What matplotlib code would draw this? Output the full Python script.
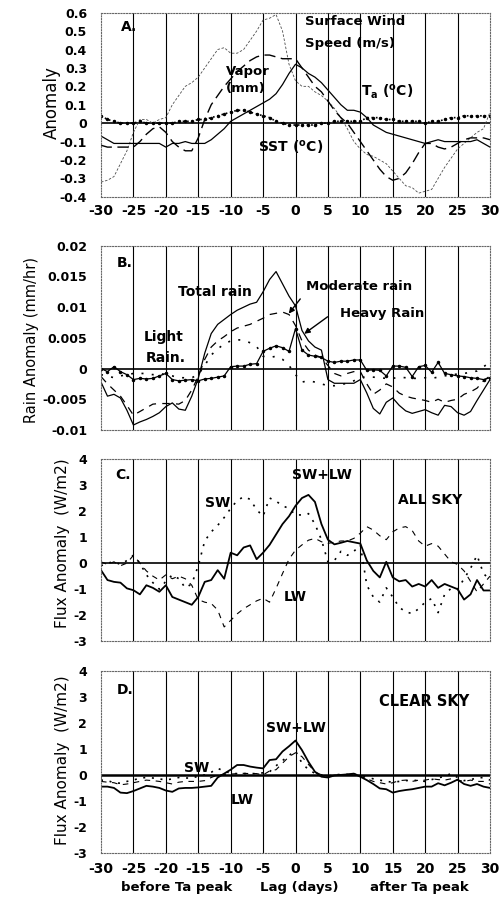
import numpy as np
import matplotlib.pyplot as plt

lag = np.arange(-30, 31)

# Panel A: anomalies
ta = [-0.07, -0.09, -0.11, -0.11, -0.11, -0.11, -0.11, -0.11, -0.11, -0.11,
      -0.13, -0.11, -0.11, -0.10, -0.11, -0.11, -0.11, -0.09, -0.06, -0.03,
      0.01, 0.03, 0.05, 0.07, 0.09, 0.11, 0.13, 0.16, 0.21, 0.27,
      0.32, 0.30, 0.27, 0.25, 0.22, 0.18, 0.14, 0.10, 0.07, 0.07,
      0.06, 0.03, -0.01, -0.03, -0.05, -0.06, -0.07, -0.08, -0.09, -0.10,
      -0.11, -0.10, -0.09, -0.10, -0.10, -0.10, -0.10, -0.10, -0.09, -0.11, -0.13]
vapor = [-0.12, -0.13, -0.13, -0.13, -0.13, -0.13, -0.10, -0.06, -0.03, -0.02,
         -0.05, -0.10, -0.13, -0.15, -0.15, -0.08, 0.02, 0.10, 0.15, 0.20,
         0.24, 0.28, 0.31, 0.34, 0.36, 0.37, 0.37, 0.36, 0.35, 0.35,
         0.35, 0.30, 0.25, 0.20, 0.17, 0.12, 0.07, 0.03, 0.00, -0.05,
         -0.10, -0.15, -0.20, -0.25, -0.29, -0.31, -0.30, -0.27, -0.22, -0.16,
         -0.11, -0.11, -0.13, -0.14, -0.13, -0.11, -0.09, -0.08, -0.08, -0.08, -0.09]
wind = [-0.32, -0.31, -0.29, -0.22, -0.15, -0.05, 0.02, 0.02, 0.00, 0.02,
        0.03, 0.10, 0.15, 0.20, 0.22, 0.25, 0.30, 0.35, 0.40, 0.41,
        0.38, 0.38, 0.40, 0.45, 0.50, 0.56, 0.57, 0.59, 0.50, 0.32,
        0.23, 0.20, 0.20, 0.17, 0.15, 0.12, 0.08, 0.03, -0.03, -0.10,
        -0.14, -0.17, -0.18, -0.20, -0.22, -0.26, -0.30, -0.34, -0.35, -0.38,
        -0.37, -0.36, -0.30, -0.24, -0.19, -0.14, -0.11, -0.08, -0.05, -0.03, 0.06]
sst = [0.04, 0.02, 0.01, 0.00, 0.00, 0.00, 0.01, 0.00, 0.00, 0.00,
       0.00, 0.00, 0.01, 0.01, 0.01, 0.02, 0.02, 0.03, 0.04, 0.05,
       0.06, 0.07, 0.07, 0.06, 0.05, 0.04, 0.03, 0.01, 0.00, -0.01,
       -0.01, -0.01, -0.01, -0.01, 0.00, 0.00, 0.01, 0.01, 0.01, 0.01,
       0.01, 0.03, 0.03, 0.03, 0.02, 0.02, 0.01, 0.01, 0.01, 0.01,
       0.00, 0.01, 0.01, 0.02, 0.03, 0.03, 0.04, 0.04, 0.04, 0.04, 0.04]

# Panel B: rain anomaly (mm/hr)
total_rain = [-0.0022, -0.0045, -0.0042, -0.0048, -0.0068, -0.0092, -0.0087, -0.0083, -0.0078, -0.0072,
              -0.0062, -0.0056, -0.0066, -0.0068, -0.0045, -0.0016, 0.0025, 0.0057, 0.0072, 0.0080,
              0.0088, 0.0095, 0.0100, 0.0105, 0.0108, 0.0125, 0.0145, 0.0158, 0.0138, 0.0118,
              0.0102, 0.0062, 0.0045, 0.0035, 0.0030, -0.0018, -0.0024, -0.0024, -0.0024, -0.0024,
              -0.0018, -0.0040, -0.0065, -0.0074, -0.0055, -0.0048, -0.0060, -0.0069, -0.0073, -0.0070,
              -0.0067, -0.0072, -0.0076, -0.0060, -0.0062, -0.0072, -0.0076, -0.0070, -0.0052, -0.0035, -0.0018]
moderate_rain = [-0.0013, -0.0025, -0.0035, -0.0045, -0.0060, -0.0076, -0.0070, -0.0064, -0.0058, -0.0057,
                 -0.0057, -0.0057, -0.0058, -0.0052, -0.0035, -0.0013, 0.0015, 0.0035, 0.0045, 0.0052,
                 0.0060, 0.0066, 0.0069, 0.0072, 0.0077, 0.0082, 0.0088, 0.0090, 0.0092, 0.0088,
                 0.0070, 0.0045, 0.0030, 0.0022, 0.0018, 0.0005, -0.0008, -0.0012, -0.0008, -0.0005,
                 -0.0005, -0.0025, -0.0042, -0.0035, -0.0025, -0.0030, -0.0040, -0.0045, -0.0048, -0.0050,
                 -0.0052, -0.0055, -0.0050, -0.0055, -0.0052, -0.0050, -0.0042, -0.0038, -0.0032, -0.0020, -0.0012]
heavy_rain = [0.0000, -0.0005, 0.0003, -0.0005, -0.0010, -0.0018, -0.0016, -0.0017, -0.0016, -0.0012,
              -0.0008, -0.0018, -0.0020, -0.0019, -0.0018, -0.0020, -0.0017, -0.0016, -0.0014, -0.0012,
              0.0003, 0.0004, 0.0004, 0.0007, 0.0008, 0.0028, 0.0033, 0.0037, 0.0034, 0.0028,
              0.0065, 0.0030, 0.0022, 0.0020, 0.0018, 0.0012, 0.0010, 0.0012, 0.0012, 0.0014,
              0.0014, -0.0003, -0.0002, -0.0003, -0.0012, 0.0004, 0.0004, 0.0002, -0.0013, 0.0003,
              0.0005, -0.0006, 0.0010, -0.0008, -0.0010, -0.0012, -0.0013, -0.0015, -0.0016, -0.0018, -0.0015]
light_rain = [-0.0010, -0.0012, -0.0015, -0.0012, -0.0010, -0.0008, -0.0008, -0.0008, -0.0010, -0.0008,
              -0.0010, -0.0012, -0.0015, -0.0015, -0.0015, -0.0010, 0.0005, 0.0022, 0.0032, 0.0040,
              0.0045, 0.0047, 0.0046, 0.0042, 0.0036, 0.0020, 0.0018, 0.0020, 0.0015, 0.0005,
              -0.0010, -0.0022, -0.0020, -0.0022, -0.0025, -0.0028, -0.0028, -0.0026, -0.0024, -0.0020,
              -0.0015, -0.0013, -0.0014, -0.0015, -0.0016, -0.0016, -0.0014, -0.0015, -0.0016, -0.0016,
              -0.0015, -0.0016, -0.0014, -0.0012, -0.0010, -0.0009, -0.0008, -0.0006, -0.0004, 0.0003, 0.0010]

# Panel C: all-sky flux anomaly (W/m2)
c_net = [-0.27, -0.65, -0.72, -0.75, -0.97, -1.04, -1.20, -0.85, -0.95, -1.10,
         -0.85, -1.30, -1.40, -1.50, -1.60, -1.30, -0.72, -0.65, -0.27, -0.60,
         0.40, 0.30, 0.60, 0.68, 0.15, 0.40, 0.70, 1.10, 1.50, 1.80,
         2.20, 2.50, 2.62, 2.35, 1.50, 0.90, 0.72, 0.78, 0.85, 0.80,
         0.75, 0.10, -0.30, -0.55, 0.05, -0.55, -0.70, -0.65, -0.90, -0.80,
         -0.90, -0.65, -0.95, -0.80, -0.90, -1.00, -1.40, -1.20, -0.65, -1.05, -1.05]
c_sw = [-0.10, 0.00, 0.05, -0.05, 0.10, 0.30, 0.00, -0.45, -0.75, -1.00,
        -0.70, -0.45, -0.60, -0.95, -0.80, -0.10, 0.85, 1.20, 1.45, 1.75,
        2.10, 2.40, 2.55, 2.45, 2.05, 1.80, 2.50, 2.38, 2.20, 2.10,
        1.85, 1.85, 1.90, 1.50, 0.90, 0.05, 0.10, 0.45, 0.30, 0.45,
        0.70, -0.85, -1.30, -1.50, -0.95, -1.30, -1.70, -1.87, -1.94, -1.75,
        -1.50, -1.36, -1.90, -1.20, -0.97, -1.00, -0.60, -0.20, 0.30, -0.40, -0.65]
c_lw = [0.05, -0.05, 0.05, -0.10, 0.00, 0.30, 0.00, -0.30, -0.50, -0.65,
        -0.45, -0.60, -0.50, -0.60, -0.85, -1.40, -1.50, -1.55, -1.80, -2.45,
        -2.20, -1.95, -1.75, -1.60, -1.45, -1.35, -1.50, -0.97, -0.40, 0.15,
        0.50, 0.70, 0.88, 0.95, 0.82, 0.76, 0.80, 0.85, 0.85, 0.95,
        1.15, 1.40, 1.27, 1.05, 0.90, 1.20, 1.35, 1.40, 1.25, 0.85,
        0.65, 0.75, 0.65, 0.35, 0.05, -0.05, -0.30, -0.70, -1.10, -0.80, -0.50]

# Panel D: clear-sky flux anomaly (W/m2)
d_net = [-0.45, -0.45, -0.50, -0.68, -0.70, -0.62, -0.52, -0.42, -0.45, -0.50,
         -0.60, -0.65, -0.52, -0.50, -0.50, -0.48, -0.45, -0.42, -0.10, 0.05,
         0.20, 0.38, 0.38, 0.32, 0.28, 0.25, 0.57, 0.60, 0.90, 1.10,
         1.32, 0.95, 0.50, 0.12, -0.07, -0.10, -0.02, 0.00, 0.02, 0.05,
         -0.07, -0.20, -0.35, -0.52, -0.55, -0.68, -0.62, -0.58, -0.55, -0.50,
         -0.45, -0.45, -0.32, -0.40, -0.30, -0.18, -0.35, -0.42, -0.35, -0.45, -0.50]
d_sw = [-0.20, -0.22, -0.30, -0.32, -0.25, -0.20, -0.12, -0.10, -0.12, -0.15,
        -0.20, -0.15, -0.10, -0.12, -0.12, -0.05, 0.00, 0.10, 0.25, 0.15,
        0.06, 0.05, 0.05, 0.05, 0.05, 0.08, 0.12, 0.35, 0.55, 0.75,
        0.92, 0.45, 0.20, 0.06, 0.00, -0.05, 0.00, 0.02, 0.02, 0.03,
        -0.03, -0.10, -0.15, -0.20, -0.25, -0.28, -0.25, -0.22, -0.20, -0.22,
        -0.25, -0.18, -0.12, -0.05, 0.05, -0.10, -0.22, -0.18, -0.12, -0.10, -0.20]
d_lw = [-0.25, -0.28, -0.30, -0.38, -0.35, -0.30, -0.25, -0.20, -0.22, -0.25,
        -0.30, -0.35, -0.28, -0.25, -0.25, -0.25, -0.22, -0.10, 0.00, 0.02,
        0.03, 0.05, 0.06, 0.05, 0.05, 0.00, 0.15, 0.20, 0.45, 0.70,
        0.85, 0.70, 0.40, 0.12, 0.00, -0.05, -0.03, 0.00, 0.02, 0.03,
        -0.05, -0.15, -0.25, -0.30, -0.35, -0.30, -0.22, -0.20, -0.25, -0.20,
        -0.20, -0.15, -0.18, -0.20, -0.15, -0.20, -0.25, -0.20, -0.25, -0.25, -0.35]

xticks = list(range(-30, 31, 5))

plt.rcParams['font.family'] = 'DejaVu Sans'
plt.rcParams['font.weight'] = 'bold'

fig = plt.figure(figsize=(5, 9.07), dpi=100)
left, width = 0.202, 0.778
axA = fig.add_axes([left, 0.783, width, 0.203])
axB = fig.add_axes([left, 0.526, width, 0.203])
axC = fig.add_axes([left, 0.293, width, 0.201])
axD = fig.add_axes([left, 0.0595, width, 0.201])


def frame(ax, ylim, yticks, show_x, xpad=5, zero_lw=1.2):
    ax.set_xlim(-30, 30)
    ax.set_ylim(*ylim)
    for x in xticks[1:-1]:
        ax.axvline(x, color='black', lw=0.8, zorder=1)
    ax.axhline(0, color='black', lw=zero_lw, zorder=1)
    for s in ax.spines.values():
        s.set_linestyle((0, (1, 1.5)))
        s.set_color('0.4')
        s.set_linewidth(0.8)
    ax.set_yticks(yticks)
    ax.set_yticklabels(['%g' % v for v in yticks], fontsize=9)
    ax.set_xticks(xticks)
    if show_x:
        ax.set_xticklabels([str(v) for v in xticks], fontsize=10)
    else:
        ax.set_xticklabels([])
    ax.tick_params(axis='y', length=0, pad=10)
    ax.tick_params(axis='x', length=0, pad=xpad)


# A
frame(axA, (-0.4, 0.6), [-0.4, -0.3, -0.2, -0.1, 0, 0.1, 0.2, 0.3, 0.4, 0.5, 0.6], True, xpad=5)
axA.plot(lag, wind, color='0.3', lw=0.6, dashes=(3, 2))
axA.plot(lag, vapor, color='black', lw=1.0, dashes=(8, 4))
axA.plot(lag, ta, color='black', lw=0.9)
axA.plot(lag, sst, color='black', lw=1.2, ls=':', marker='.', ms=3)
axA.text(-27, 0.5, 'A.', fontsize=10)
axA.text(1.5, 0.55, 'Surface Wind', fontsize=9.5, va='center')
axA.text(1.5, 0.435, 'Speed (m/s)', fontsize=9.5, va='center')
axA.text(-7.3, 0.28, 'Vapor', fontsize=9.5, ha='center', va='center')
axA.text(-7.6, 0.186, '(mm)', fontsize=9.5, ha='center', va='center')
axA.text(14.1, 0.17, r'T$_\mathbf{a}$ ($^\mathbf{o}$C)', fontsize=10, ha='center', va='center')
axA.text(-0.7, -0.13, r'SST ($^\mathbf{o}$C)', fontsize=10, ha='center', va='center')

# B
frame(axB, (-0.01, 0.02), [-0.01, -0.005, 0, 0.005, 0.01, 0.015, 0.02], False)
axB.plot(lag, light_rain, color='black', lw=1.2, dashes=(1.2, 5))
axB.plot(lag, moderate_rain, color='black', lw=0.9, dashes=(6, 5))
axB.plot(lag, total_rain, color='black', lw=0.9)
axB.plot(lag, heavy_rain, color='black', lw=0.9, marker='.', ms=3)
axB.text(-27.5, 0.0172, 'B.', fontsize=10, va='center')
axB.text(-12.4, 0.0124, 'Total rain', fontsize=10, ha='center', va='center')
axB.text(9.8, 0.0133, 'Moderate rain', fontsize=9.5, ha='center', va='center')
axB.text(13.4, 0.009, 'Heavy Rain', fontsize=9.5, ha='center', va='center')
axB.text(-20.3, 0.0051, 'Light', fontsize=10, ha='center', va='center')
axB.text(-20.0, 0.0017, 'Rain.', fontsize=10, ha='center', va='center')
axB.annotate('', xy=(-1.3, 0.0086), xytext=(1.0, 0.0117),
             arrowprops=dict(arrowstyle='-|>', color='black', lw=1.0, mutation_scale=8))
axB.annotate('', xy=(1.0, 0.0054), xytext=(5.3, 0.0087),
             arrowprops=dict(arrowstyle='-|>', color='black', lw=1.0, mutation_scale=8))

# C
frame(axC, (-3, 4), [-3, -2, -1, 0, 1, 2, 3, 4], False)
axC.plot(lag, c_sw, color='black', lw=1.2, dashes=(1.2, 4))
axC.plot(lag, c_lw, color='black', lw=0.8, dashes=(5, 5))
axC.plot(lag, c_net, color='black', lw=1.3)
axC.text(-27.8, 3.38, 'C.', fontsize=10, va='center')
axC.text(4.1, 3.38, 'SW+LW', fontsize=10, ha='center', va='center')
axC.text(20.8, 2.42, 'ALL SKY', fontsize=10, ha='center', va='center')
axC.text(-12.0, 2.3, 'SW', fontsize=10, ha='center', va='center')
axC.text(0.0, -1.3, 'LW', fontsize=10, ha='center', va='center')

# D
frame(axD, (-3, 4), [-3, -2, -1, 0, 1, 2, 3, 4], True, xpad=6.5, zero_lw=1.8)
axD.plot(lag, d_sw, color='black', lw=1.2, dashes=(1.2, 4))
axD.plot(lag, d_lw, color='black', lw=0.8, dashes=(5, 5))
axD.plot(lag, d_net, color='black', lw=1.3)
axD.text(-27.5, 3.26, 'D.', fontsize=10, va='center')
axD.text(19.8, 2.8, 'CLEAR SKY', fontsize=10.5, ha='center', va='center')
axD.text(0.0, 1.8, 'SW+LW', fontsize=10, ha='center', va='center')
axD.text(-15.2, 0.26, 'SW', fontsize=10, ha='center', va='center')
axD.text(-8.2, -0.97, 'LW', fontsize=10, ha='center', va='center')

# axis titles
fig.text(0.104, 0.8864, 'Anomaly', rotation=90, fontsize=12, fontweight='normal',
         ha='center', va='center')
fig.text(0.064, 0.625, 'Rain Anomaly (mm/hr)', rotation=90, fontsize=10.5, fontweight='normal',
         ha='center', va='center')
fig.text(0.126, 0.401, 'Flux Anomaly  (W/m2)', rotation=90, fontsize=11, fontweight='normal',
         ha='center', va='center')
fig.text(0.126, 0.162, 'Flux Anomaly  (W/m2)', rotation=90, fontsize=11, fontweight='normal',
         ha='center', va='center')
fig.text(0.354, 0.021, 'before Ta peak', fontsize=9.5, ha='center', va='center')
fig.text(0.598, 0.021, 'Lag (days)', fontsize=9.5, ha='center', va='center')
fig.text(0.838, 0.021, 'after Ta peak', fontsize=9.5, ha='center', va='center')

fig.savefig('out.png', dpi=100)
